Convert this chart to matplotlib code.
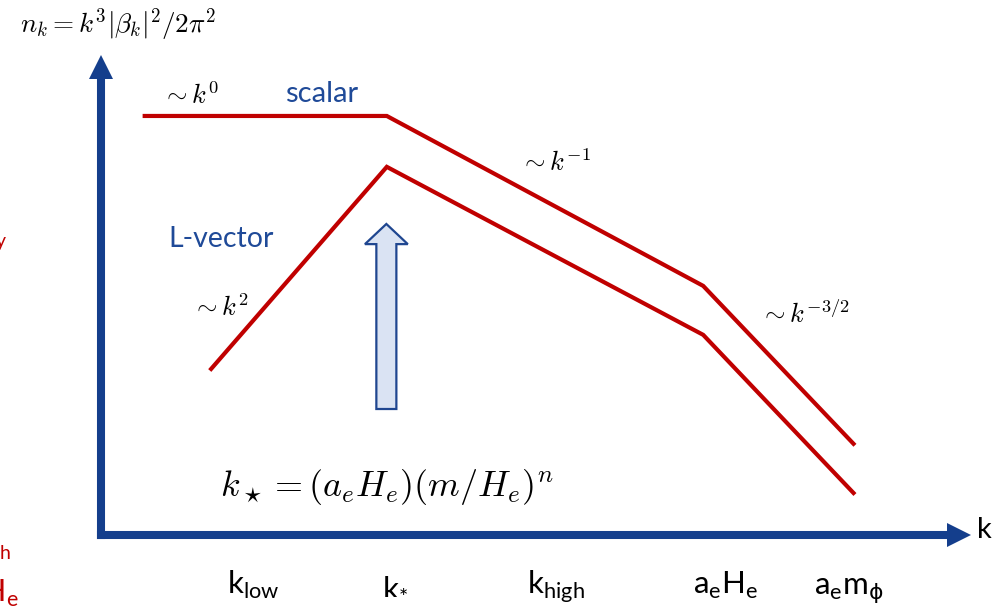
import matplotlib
matplotlib.use("Agg")
import matplotlib.pyplot as plt
from matplotlib.patches import FancyArrow

plt.rcParams["mathtext.fontset"] = "cm"
plt.rcParams["font.family"] = ["Lato", "DejaVu Sans"]

# Schematic spectrum: log k (arbitrary units) vs log n_k (arbitrary units)
k_scalar = [0.50, 3.27, 6.89, 8.61]
n_scalar = [8.73, 8.73, 5.19, 1.90]

k_vector = [1.26, 3.27, 6.89, 8.61]
n_vector = [3.46, 7.67, 4.17, 0.875]

tick_labels = [r"k$_{\mathregular{low}}$", r"k$_{\mathregular{*}}$",
               r"k$_{\mathregular{high}}$", r"a$_{\mathregular{e}}$H$_{\mathregular{e}}$",
               r"a$_{\mathregular{e}}$m$_{\mathrm{\phi}}$"]
tick_pos = [1.74, 3.36, 5.21, 7.15, 8.55]

slope_labels = [r"$\sim k^{0}$", r"$\sim k^{-1}$", r"$\sim k^{2}$", r"$\sim k^{-3/2}$"]
slope_pos = [(0.70, 8.98), (4.79, 7.58), (1.04, 4.56), (7.54, 4.42)]

RED = "#C00000"
AXBLUE = "#143E8C"
TXTBLUE = "#1F4A98"

fig = plt.figure(figsize=(9.99, 6.13), dpi=100)
ax = fig.add_axes([0, 0, 1, 1])
ax.set_xlim(-1.1556, 10.2746)
ax.set_ylim(-1.625, 11.146)
ax.axis("off")

# axes with arrow heads
ax.plot([0, 0], [0, 9.5], color=AXBLUE, lw=5.8, solid_capstyle="projecting")
ax.plot([0, 9.69], [0, 0], color=AXBLUE, lw=5.8, solid_capstyle="projecting")
ax.plot([0], [9.76], marker="^", ms=16.8, color=AXBLUE, mew=0)
ax.plot([9.82], [0], marker=">", ms=17.0, color=AXBLUE, mew=0)

# spectra
ax.plot(k_scalar, n_scalar, color=RED, lw=3.0, solid_joinstyle="miter")
ax.plot(k_vector, n_vector, color=RED, lw=3.0, solid_joinstyle="miter")

# upward shift arrow
ax.add_patch(FancyArrow(3.265, 2.625, 0, 6.48 - 2.625, width=0.229,
                        head_width=0.49, head_length=0.42,
                        length_includes_head=True,
                        facecolor="#DAE3F3", edgecolor="#1F4690", lw=1.6))

# text
ax.text(-0.93, 10.46, r"$n_k = k^3|\beta_k|^2/2\pi^2$", fontsize=19.5,
        ha="left", va="baseline")
for lab, (x, y) in zip(slope_labels, slope_pos):
    ax.text(x, y, lab, fontsize=19, ha="left", va="baseline")
ax.text(2.10, 9.02, "scalar", fontsize=21, color=TXTBLUE, ha="left", va="baseline")
ax.text(0.77, 6.00, "L-vector", fontsize=20.5, color=TXTBLUE, ha="left", va="baseline")
ax.text(1.36, 0.81, r"$k_\star = (a_e H_e)(m/H_e)^n$", fontsize=26,
        ha="left", va="baseline")
ax.text(10.02, 0.10, "k", fontsize=21, ha="left", va="center")

for lab, x in zip(tick_labels, tick_pos):
    ax.text(x, -1.23, lab, fontsize=22.5, ha="center", va="baseline",
            math_fontfamily="dejavusans")

# labels running past the left margin
ax.text(-1.09, 6.0, "y", fontsize=14, color=RED, ha="right", va="baseline")
ax.text(-1.02, -0.43, r"k$_{\mathregular{high}}$", fontsize=20, color=RED,
        ha="right", va="baseline", math_fontfamily="dejavusans")
ax.text(-0.945, -1.40, r"a$_{\mathregular{e}}$H$_{\mathregular{e}}$", fontsize=22,
        color=RED, ha="right", va="baseline", math_fontfamily="dejavusans")

fig.savefig("out.png", dpi=100)
